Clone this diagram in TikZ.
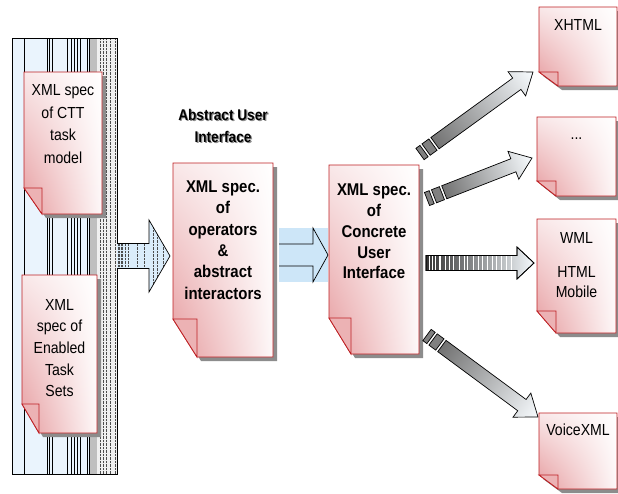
\documentclass[tikz,border=0pt]{standalone}
\usepackage{fontspec}
\setmainfont{Liberation Sans}[FakeStretch=0.88]
\usepackage{tikz}
\usetikzlibrary{positioning,calc,shadings}
\definecolor{pageedge}{RGB}{190,32,36}
\definecolor{pagepink}{RGB}{230,155,158}
\definecolor{pagelight}{RGB}{249,232,233}
\definecolor{foldpink}{RGB}{236,178,180}
\definecolor{panelblue}{RGB}{234,244,253}
\definecolor{arrowblue}{RGB}{205,230,248}
\definecolor{shadowgray}{RGB}{140,140,140}
\tikzset{
  page/.style={inner sep=0pt, outer sep=0pt},
  pagebody/.style={draw=pageedge, line width=0.8pt, lower left=pagepink,
    upper left=pagelight, upper right=white, lower right=white!70!pagelight},
  pagefold/.style={draw=pageedge, line width=0.8pt, fill=foldpink},
  pagetext/.style={align=center, inner sep=0pt, font=\fontsize{16}{22.5}\selectfont},
  boldtext/.style={align=center, inner sep=0pt, font=\fontsize{17}{21.3}\selectfont\bfseries},
  headtext/.style={align=center, inner sep=0pt, font=\fontsize{15.5}{22.5}\selectfont\bfseries},
  tailpiece/.style={draw=black, fill=black!50, line width=0.7pt},
  shaft/.style={draw=black, line width=0.7pt, left color=black!55, right color=arrowblue!15},
}
% page with folded lower left corner: node, fold width, fold height
\newcommand{\docpage}[3]{%
  \fill[shadowgray] ($(#1.north west)+(4,4)$) -- ($(#1.north east)+(4,4)$)
    -- ($(#1.south east)+(4,4)$) -- ($(#1.south west)+(4+#2,4)$)
    -- ($(#1.south west)+(4,4-#3)$) -- cycle;
  \path[pagebody] (#1.north west) -- (#1.north east) -- (#1.south east)
    -- ($(#1.south west)+(#2,0)$) -- ($(#1.south west)+(0,-#3)$) -- cycle;
  \filldraw[pagefold] ($(#1.south west)+(0,-#3)$) -- ($(#1.south west)+(#2,-#3)$)
    -- ($(#1.south west)+(#2,0)$) -- cycle;
}
% block arrow with broken tail: from, to
\newcommand{\brokenarrow}[2]{%
  \path let \p1=($(#2)-(#1)$) in
    \pgfextra{\pgfmathsetmacro\tmpang{atan2(\y1,\x1)}%
      \pgfmathsetmacro\tmplen{veclen(\x1,\y1)}%
      \xdef\arrang{\tmpang}\xdef\arrlen{\tmplen}};
  \begin{scope}[transform canvas={shift={(#1)}, rotate=\arrang}]
    \filldraw[tailpiece] (0,-7) rectangle (5,7);
    \filldraw[tailpiece] (7.5,-7) rectangle (16,7);
    \path[shaft] (18.5,-7) -- (\arrlen-20,-7) -- (\arrlen-20,-15) -- (\arrlen,0)
      -- (\arrlen-20,15) -- (\arrlen-20,7) -- (18.5,7) -- cycle;
  \end{scope}
}
\begin{document}
\begin{tikzpicture}[x=1pt, y=-1pt]
\fill[white] (0,0) rectangle (618,493);
\useasboundingbox (0,0) rectangle (618,493);

% left panel
\node[page, minimum width=105pt, minimum height=436pt] (panel) at (64.5,256) {};
\fill[panelblue] (panel.north west) rectangle (panel.south east);
\fill[gray!50] (90,38) rectangle (97,474);
\fill[gray!12] (97,38) rectangle (117,474);
\foreach \lx in {24,47,49.5,52,67,71,74,77,80,87,89}
  \draw[line width=0.5pt] (\lx,38) -- (\lx,474);
\foreach \lx in {100,103,106,110,115}
  \draw[gray!60!black, densely dotted, line width=0.4pt] (\lx,38) -- (\lx,474);
\draw[line width=0.6pt] (panel.north west) rectangle (panel.south east);

\node[page, minimum width=78pt, minimum height=142pt] (ctt) at (63,143) {};
\docpage{ctt}{18}{26}
\node[pagetext, yshift=19pt] (ctttxt) at (ctt.center) {XML spec\\of CTT\\task\\model};

\node[page, minimum width=75pt, minimum height=158pt] (ets) at (59.5,354) {};
\docpage{ets}{17}{29}
\node[pagetext, yshift=6pt, font=\fontsize{16}{21.6}\selectfont] (etstxt) at (ets.center)
  {XML\\spec of\\Enabled\\Task\\Sets};

% abstract user interface
\node[page, minimum width=100pt, minimum height=194pt] (aui) at (223,260) {};

\begin{scope}[shift={(panel.east)}]
  \begin{scope}
    \clip (0,-12.5) -- (32,-12.5) -- (32,-36) -- (53,0) -- (32,36) -- (32,12.5) -- (0,12.5) -- cycle;
    \fill[arrowblue!75] (0,-36) rectangle (53,36);
    \foreach \hx in {1,2.5,4,5.5,8,11,20,27,36,40,46}
      \draw[gray!60!black, densely dotted, line width=0.4pt] (\hx,-36) -- (\hx,36);
  \end{scope}
  \draw[line width=0.7pt] (0,-12.5) -- (32,-12.5) -- (32,-36) -- (53,0) -- (32,36) -- (32,12.5) -- (0,12.5);
\end{scope}

\node[headtext, text=black!45, above=20pt of aui, xshift=1.2pt, yshift=-1.2pt] (titleshade) {Abstract User\\Interface};
\node[headtext, above=20pt of aui] (auititle) {Abstract User\\Interface};

\docpage{aui}{24}{38}
\node[boldtext, yshift=20pt] (auitxt) at (aui.center)
  {XML spec.\\of\\operators\\\&\\abstract\\interactors};

% concrete user interface
\node[page, minimum width=90pt, minimum height=189pt] (cui) at (374,259.5) {};

\begin{scope}[shift={(aui.east)}]
  \fill[arrowblue] (6,-32) rectangle (55,22);
  \draw[line width=0.7pt] (6,-16) -- (40,-16) -- (40,-32) -- (55,-5) -- (40,22) -- (40,6) -- (6,6);
\end{scope}

\docpage{cui}{22}{36}
\node[boldtext, yshift=28pt, font=\fontsize{17}{20.8}\selectfont\bfseries] (cuitxt) at (cui.center)
  {XML spec.\\of\\Concrete\\User\\Interface};

% arrows to the target languages
\coordinate (a1s) at (420,154);
\coordinate (a1e) at (533,72);
\coordinate (a2s) at (427,199);
\coordinate (a2e) at (532,158);
\coordinate (a3s) at (426,263);
\coordinate (a4s) at (427,335);
\coordinate (a4e) at (538,417);

\brokenarrow{a1s}{a1e}
\brokenarrow{a2s}{a2e}
\brokenarrow{a4s}{a4e}

\begin{scope}[shift={(a3s)}]
  \path[shaft, left color=black!80, right color=arrowblue!20]
    (0,-7.5) -- (91,-7.5) -- (91,-16) -- (108,0) -- (91,16) -- (91,7.5) -- (0,7.5) -- cycle;
  \begin{scope}
    \clip (0,-7.5) rectangle (91,7.5);
    \foreach \hx/\hw in {3/1,6/1,9.5/1.2,14/1.5,19/1,23/0.8,27/0.6,33/1,38/0.8,41/0.6,
                         47/0.8,52/0.6,56/0.8,61/0.6,66/0.8,70/0.5,75/0.6,80/0.5,85/0.6}
      \draw[white, line width=\hw pt] (\hx,-8) -- (\hx,8);
  \end{scope}
  \draw[line width=0.7pt]
    (0,-7.5) -- (91,-7.5) -- (91,-16) -- (108,0) -- (91,16) -- (91,7.5) -- (0,7.5) -- cycle;
\end{scope}

% target pages
\node[page, minimum width=78pt, minimum height=79pt] (xhtml) at (578,46.5) {};
\docpage{xhtml}{19}{14}
\node[pagetext, yshift=21.5pt] (xhtmltxt) at (xhtml.center) {XHTML};

\node[page, minimum width=79pt, minimum height=79pt] (more) at (576.5,156.5) {};
\docpage{more}{19}{15}
\node[pagetext, yshift=17.5pt] (moretxt) at (more.center) {...};

\node[page, minimum width=79pt, minimum height=114pt] (wml) at (576.5,276) {};
\docpage{wml}{19}{22}
\node[pagetext, yshift=38pt] (wmltxt) at (wml.center) {WML};
\node[pagetext, yshift=-6pt, font=\fontsize{16}{20.5}\selectfont] (htmltxt) at (wml.center) {HTML\\Mobile};

\node[page, minimum width=78pt, minimum height=76pt] (voice) at (578,451) {};
\docpage{voice}{19}{14}
\node[pagetext, yshift=21pt] (voicetxt) at (voice.center) {VoiceXML};
\end{tikzpicture}
\end{document}
